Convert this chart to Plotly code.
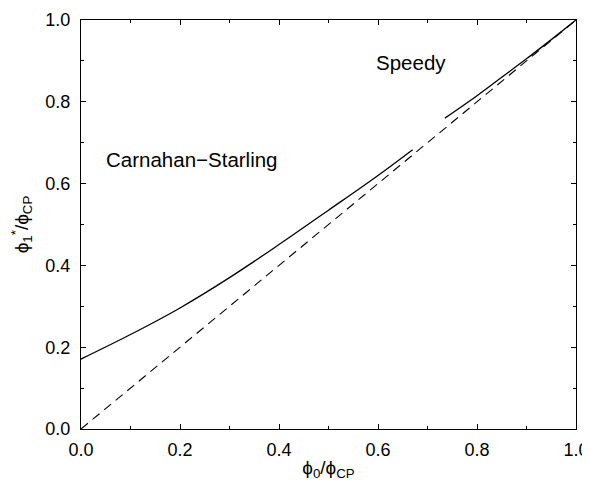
import plotly.graph_objects as go

# Carnahan-Starling branch
cs_x = [0.0, 0.1, 0.2, 0.3, 0.4, 0.5, 0.6, 0.67]
cs_y = [0.171, 0.231, 0.296, 0.370, 0.451, 0.535, 0.620, 0.683]

# Speedy branch
sp_x = [0.735, 0.8, 0.85, 0.9, 0.95, 1.0]
sp_y = [0.760, 0.815, 0.860, 0.905, 0.952, 1.0]

# reference diagonal
diag_x = [0.0, 1.0]
diag_y = [0.0, 1.0]

tick_vals = [0.0, 0.2, 0.4, 0.6, 0.8, 1.0]
tick_text = ["0.0", "0.2", "0.4", "0.6", "0.8", "1.0"]

FONT = "Liberation Sans"

fig = go.Figure()
fig.add_trace(go.Scatter(x=diag_x, y=diag_y, mode="lines",
                         line=dict(color="black", width=1.1, dash="9px,6px"),
                         showlegend=False))
fig.add_trace(go.Scatter(x=cs_x, y=cs_y, mode="lines", line_shape="spline",
                         line=dict(color="black", width=1.3), showlegend=False))
fig.add_trace(go.Scatter(x=sp_x, y=sp_y, mode="lines", line_shape="spline",
                         line=dict(color="black", width=1.3), showlegend=False))

fig.add_annotation(x=0.225, y=0.658, text="Carnahan\u2212Starling", showarrow=False,
                   font=dict(size=20.5, color="black", family=FONT))
fig.add_annotation(x=0.667, y=0.897, text="Speedy", showarrow=False,
                   font=dict(size=20.5, color="black", family=FONT))

axis_common = dict(range=[0, 1], tickvals=tick_vals, ticktext=tick_text,
                   ticks="inside", ticklen=5, tickcolor="black",
                   minor=dict(dtick=0.1, ticks="inside", ticklen=3, tickcolor="black"),
                   showline=True, linecolor="black", linewidth=1, mirror="ticks",
                   showgrid=False, zeroline=False, automargin=False,
                   ticklabeloverflow="allow",
                   tickfont=dict(size=18, color="black", family=FONT))

fig.update_xaxes(**axis_common, ticklabelstandoff=4,
                 title=dict(text="\u03d5<sub>0</sub>/\u03d5<sub>CP</sub>",
                            font=dict(size=19, color="black", family=FONT),
                            standoff=6))
fig.update_yaxes(**axis_common, ticklabelstandoff=6,
                 title=dict(text="\u03d5<sub>1</sub><sup>*</sup>/\u03d5<sub>CP</sub>",
                            font=dict(size=19, color="black", family=FONT),
                            standoff=16))

# page body adds an 8px offset, so the figure is sized to fit the window
fig.update_layout(width=590, height=473,
                  margin=dict(l=73, r=22, t=12, b=52),
                  paper_bgcolor="white", plot_bgcolor="white")

fig.write_html("out.html")
